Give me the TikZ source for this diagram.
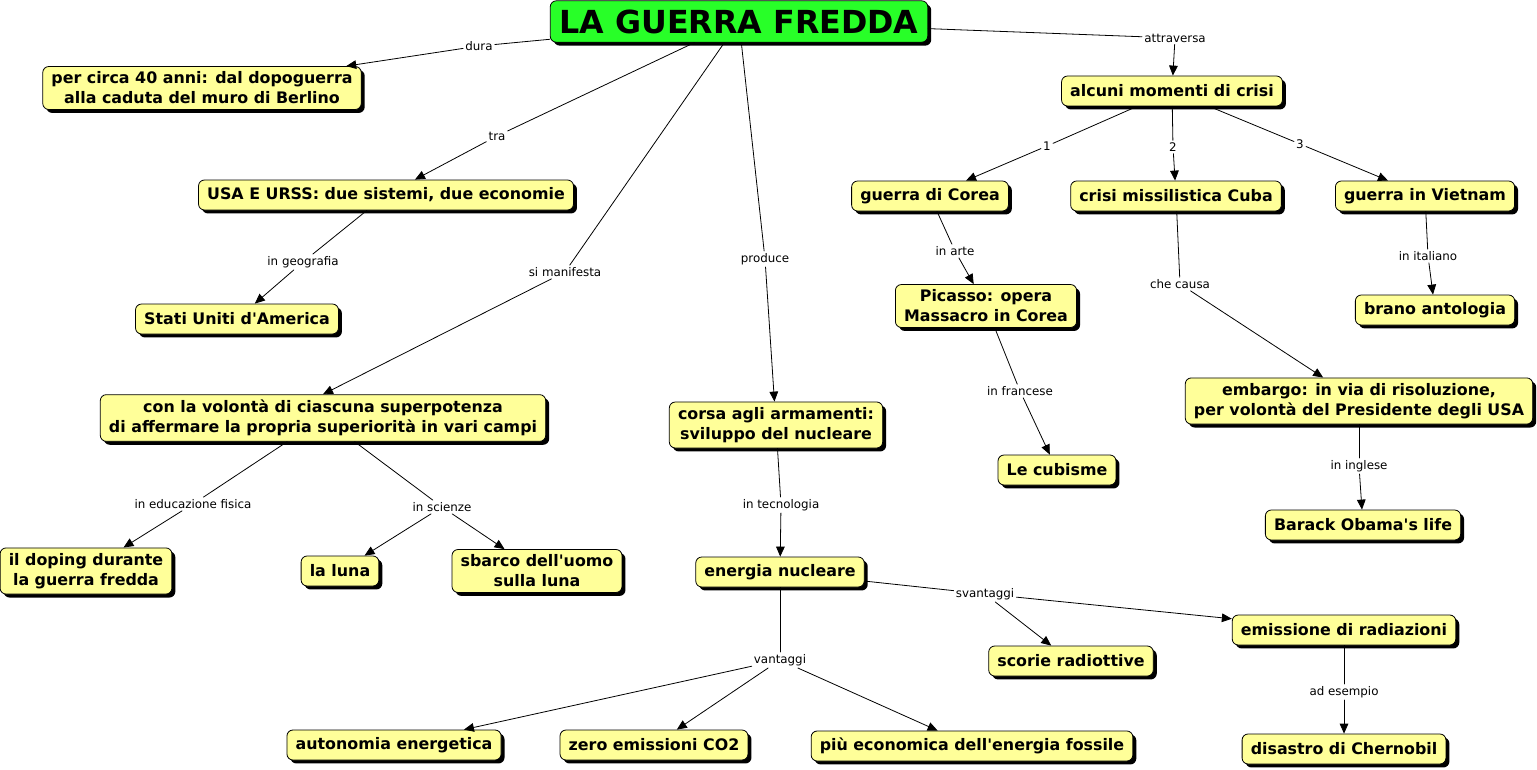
\documentclass[tikz,border=0pt]{standalone}
\usepackage{fontspec}
\setmainfont{DejaVu Sans}[Ligatures=TeXOff]
\usetikzlibrary{arrows.meta,shadows}
\definecolor{giallo}{RGB}{255,255,153}
\definecolor{verde}{RGB}{40,255,40}
\begin{document}
\begin{tikzpicture}[x=0.75pt,y=-0.75pt,line join=round,line cap=round,
	concetto/.style={draw,fill=giallo,rounded corners=4.5pt,line width=0.6pt,align=center,
		inner xsep=6.5pt,inner ysep=4pt,minimum height=22.5pt,
		font=\fontsize{11.9pt}{15pt}\selectfont\bfseries,
		drop shadow={shadow xshift=2.6pt,shadow yshift=-2.6pt,opacity=1,fill=black}},
	principale/.style={concetto,fill=verde,minimum height=31pt,inner xsep=7pt,
		font=\fontsize{23.8pt}{28pt}\selectfont\bfseries},
	legame/.style={inner sep=1.5pt,font=\fontsize{8.9pt}{11pt}\selectfont},
	>={Triangle[length=7.5pt,width=6.5pt]}]
	%La guerra fredda - mappa concettuale.
	\useasboundingbox (0,0) rectangle (1537,770);
	\node[principale] (gf) at (739,21.5) {LA GUERRA FREDDA};
	\node[concetto] (anni) at (202,88) {per circa 40 anni: dal dopoguerra\\alla caduta del muro di Berlino};
	\node[concetto] (usa) at (386,195) {USA E URSS: due sistemi, due economie};
	\node[concetto] (stati) at (237,319) {Stati Uniti d'America};
	\node[concetto] (volonta) at (323,418) {con la volontà di ciascuna superpotenza\\di affermare la propria superiorità in vari campi};
	\node[concetto] (doping) at (86,571) {il doping durante\\la guerra fredda};
	\node[concetto] (luna) at (340,571) {la luna};
	\node[concetto] (sbarco) at (537,571) {sbarco dell'uomo\\sulla luna};
	\node[concetto] (corsa) at (776,425) {corsa agli armamenti:\\sviluppo del nucleare};
	\node[concetto] (energia) at (780,572) {energia nucleare};
	\node[concetto] (autonomia) at (394,745) {autonomia energetica};
	\node[concetto] (zero) at (654,745) {zero emissioni CO2};
	\node[concetto] (fossile) at (972,746) {più economica dell'energia fossile};
	\node[concetto] (scorie) at (1071,661) {scorie radiottive};
	\node[concetto] (emissione) at (1344,630) {emissione di radiazioni};
	\node[concetto] (chernobil) at (1344,749) {disastro di Chernobil};
	\node[concetto] (crisi) at (1172,91) {alcuni momenti di crisi};
	\node[concetto] (corea) at (930,196) {guerra di Corea};
	\node[concetto] (cuba) at (1176,196) {crisi missilistica Cuba};
	\node[concetto] (vietnam) at (1425,196) {guerra in Vietnam};
	\node[concetto] (picasso) at (986,306) {Picasso: opera\\Massacro in Corea};
	\node[concetto] (cubisme) at (1057,470) {Le cubisme};
	\node[concetto] (embargo) at (1359,401) {embargo: in via di risoluzione,\\per volontà del Presidente degli USA};
	\node[concetto] (brano) at (1435,310) {brano antologia};
	\node[concetto] (obama) at (1363,525) {Barack Obama's life};
	\node[legame] (ldura) at (479,46) {dura};
	\node[legame] (ltra) at (497,136) {tra};
	\node[legame] (lgeo) at (303,262) {in geografia};
	\node[legame] (lmanif) at (565,272) {si manifesta};
	\node[legame] (lprod) at (765,259) {produce};
	\node[legame] (lattr) at (1175,38) {attraversa};
	\node[legame] (luno) at (1047,146) {1};
	\node[legame] (ldue) at (1173,147) {2};
	\node[legame] (ltre) at (1300,144) {3};
	\node[legame] (larte) at (955,251) {in arte};
	\node[legame] (lfranc) at (1020,391) {in francese};
	\node[legame] (lcausa) at (1180,284) {che causa};
	\node[legame] (lital) at (1428,256) {in italiano};
	\node[legame] (lingl) at (1359,466) {in inglese};
	\node[legame] (ledu) at (193,504) {in educazione fisica};
	\node[legame] (lsci) at (442,507) {in scienze};
	\node[legame] (ltec) at (781,505) {in tecnologia};
	\node[legame] (lvant) at (780,660) {vantaggi};
	\node[legame] (lsvant) at (985,594) {svantaggi};
	\node[legame] (lesem) at (1344,692) {ad esempio};
	\foreach \a/\b in {gf/ldura,gf/ltra,gf/lmanif,gf/lprod,gf/lattr,usa/lgeo,volonta/ledu,volonta/lsci,
		corsa/ltec,energia/lvant,energia/lsvant,emissione/lesem,crisi/luno,crisi/ldue,crisi/ltre,
		corea/larte,picasso/lfranc,cuba/lcausa,vietnam/lital,embargo/lingl}
	\draw[line width=0.6pt] (\a)--(\b);
	\foreach \a/\b in {ldura/anni,ltra/usa,lgeo/stati,lmanif/volonta.north,lprod/corsa,lattr/crisi,
		ledu/doping,lsci/luna,lsci/sbarco,ltec/energia,lvant/autonomia,lvant/zero,lvant/fossile,
		lsvant/scorie,lsvant/emissione,lesem/chernobil,luno/corea,ldue/cuba,ltre/vietnam,
		larte/picasso,lfranc/cubisme,lcausa/embargo,lital/brano,lingl/obama}
	\draw[line width=0.6pt,->] (\a)--(\b);
\end{tikzpicture}
\end{document}
